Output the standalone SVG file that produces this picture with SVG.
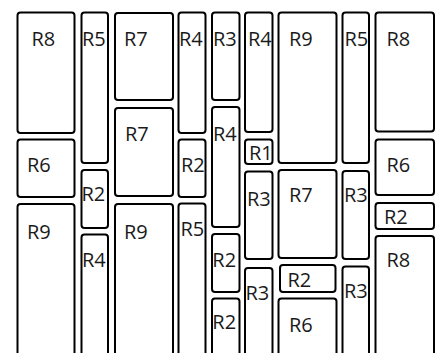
<svg xmlns="http://www.w3.org/2000/svg" width="436" height="353" viewBox="0 0 436 353">
<style>
rect{fill:#fff;stroke:#000;stroke-width:2}
text{font-family:"Open Sans","Liberation Sans",sans-serif;font-size:20px;fill:#1a1a1a}
</style>
<rect x="0" y="0" width="436" height="353" style="stroke:none"/>
<g id="c1">
<g id="n1"><rect x="17.5" y="12.5" width="57" height="120.5" rx="3"/><text x="31.5" y="45.5">R8</text></g>
<g id="n2"><rect x="17.5" y="139.5" width="57" height="57.5" rx="3"/><text x="27" y="172">R6</text></g>
<g id="n3"><rect x="17.5" y="204" width="57" height="160" rx="3"/><text x="27" y="238.5">R9</text></g>
</g>
<g id="c2">
<g id="n4"><rect x="81.5" y="12.5" width="26.5" height="150.5" rx="3"/><text x="82" y="45.5">R5</text></g>
<g id="n5"><rect x="81.5" y="170" width="26.5" height="58" rx="3"/><text x="81.5" y="200.5">R2</text></g>
<g id="n6"><rect x="81.5" y="234.5" width="26.5" height="130" rx="3"/><text x="82" y="266.5">R4</text></g>
</g>
<g id="c3">
<g id="n7"><rect x="115" y="13" width="58" height="87" rx="3"/><text x="124" y="45.5">R7</text></g>
<g id="n8"><rect x="115" y="108" width="58" height="88" rx="3"/><text x="125" y="141">R7</text></g>
<g id="n9"><rect x="115" y="204" width="58" height="160" rx="3"/><text x="124" y="238.5">R9</text></g>
</g>
<g id="c4">
<g id="n10"><rect x="178.5" y="12.5" width="27" height="120.5" rx="3"/><text x="179" y="45.5">R4</text></g>
<g id="n11"><rect x="178.5" y="139.5" width="27" height="57.5" rx="3"/><text x="181" y="171.5">R2</text></g>
<g id="n12"><rect x="178.5" y="203.5" width="27" height="160" rx="3"/><text x="180.5" y="236">R5</text></g>
</g>
<g id="c5">
<g id="n13"><rect x="212" y="12.5" width="27.5" height="87.5" rx="3"/><text x="213" y="45.5">R3</text></g>
<g id="n14"><rect x="212" y="107" width="27.5" height="120" rx="3"/><text x="213" y="141">R4</text></g>
<g id="n15"><rect x="212" y="234" width="27.5" height="58" rx="3"/><text x="212.3" y="267">R2</text></g>
<g id="n16"><rect x="212" y="298.5" width="27.5" height="65" rx="3"/><text x="212.3" y="329">R2</text></g>
</g>
<g id="c6">
<g id="n17"><rect x="245" y="12.5" width="27.5" height="119.5" rx="3"/><text x="248" y="45.5">R4</text></g>
<g id="n18"><rect x="245" y="139.5" width="27.5" height="24.5" rx="3"/><text x="249" y="160">R1</text></g>
<g id="n19"><rect x="245" y="171.5" width="27.5" height="87.5" rx="3"/><text x="247" y="205.5">R3</text></g>
<g id="n20"><rect x="245" y="268" width="27.5" height="96" rx="3"/><text x="245.5" y="299.5">R3</text></g>
</g>
<g id="c7">
<g id="n21"><rect x="278.5" y="12.5" width="58" height="150.5" rx="3"/><text x="289" y="45.5">R9</text></g>
<g id="n22"><rect x="278.5" y="170" width="58" height="88" rx="3"/><text x="289" y="201.5">R7</text></g>
<g id="n23"><rect x="280" y="265" width="55.5" height="27" rx="3"/><text x="287.5" y="286.5">R2</text></g>
<g id="n24"><rect x="278.5" y="298.5" width="58" height="65" rx="3"/><text x="289" y="331.5">R6</text></g>
</g>
<g id="c8">
<g id="n25"><rect x="342.5" y="12.5" width="26.5" height="150.5" rx="3"/><text x="344.5" y="45.5">R5</text></g>
<g id="n26"><rect x="342.5" y="171" width="26.5" height="88" rx="3"/><text x="344" y="201.5">R3</text></g>
<g id="n27"><rect x="342.5" y="266.5" width="26.5" height="97" rx="3"/><text x="344" y="298">R3</text></g>
</g>
<g id="c9">
<g id="n28"><rect x="375.5" y="12.5" width="58.5" height="119" rx="3"/><text x="386.5" y="45.5">R8</text></g>
<g id="n29"><rect x="375.5" y="139.5" width="58.5" height="55.5" rx="3"/><text x="386.5" y="172">R6</text></g>
<g id="n30"><rect x="375.5" y="203" width="58.5" height="26" rx="3"/><text x="384" y="224">R2</text></g>
<g id="n31"><rect x="375.5" y="236" width="58.5" height="128" rx="3"/><text x="386.5" y="266.5">R8</text></g>
</g>
<g id="connectors"/>
</svg>
